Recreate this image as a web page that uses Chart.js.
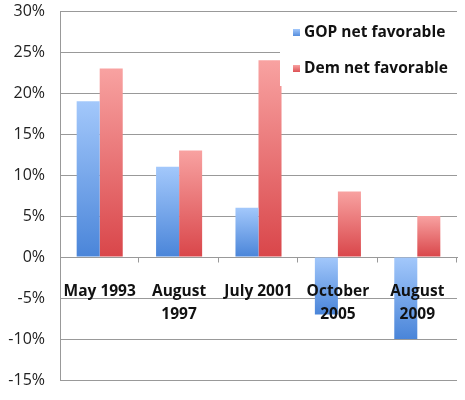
<!DOCTYPE html>
<html>
<head>
<meta charset="utf-8">
<script src="https://cdn.jsdelivr.net/npm/chart.js@4"></script>
<style>
  html, body { margin: 0; padding: 0; background: #fff; }
</style>
</head>
<body>
<canvas id="myChart" width="465" height="400"></canvas>
<script>
var categories = [['May 1993'], ['August', '1997'], ['July 2001'], ['October', '2005'], ['August', '2009']];
var gopValues = [19, 11, 6, -7, -10];
var demValues = [23, 13, 24, 8, 5];
var tickValues = [-15, -10, -5, 0, 5, 10, 15, 20, 25, 30];
var seriesNames = ['GOP net favorable', 'Dem net favorable'];

var blueTop = '#a3c8fb', blueBottom = '#4a85d9';
var redTop = '#f8a2a1', redBottom = '#d9464a';

// vertical gradient per bar, light at the top, dark at the bottom
function barGradient(top, bottom) {
  return function(context) {
    var chart = context.chart;
    if (!chart.chartArea || context.type !== 'data') return bottom;
    var y = chart.scales.y;
    var v = context.raw;
    var y1 = y.getPixelForValue(Math.max(v, 0));
    var y2 = y.getPixelForValue(Math.min(v, 0));
    var g = chart.ctx.createLinearGradient(0, y1, 0, y2);
    g.addColorStop(0, top);
    g.addColorStop(1, bottom);
    return g;
  };
}

// short tick marks under the zero line, between categories
var categoryTicks = {
  id: 'categoryTicks',
  afterDraw: function(chart) {
    var xs = chart.scales.x, ys = chart.scales.y;
    var ctx = chart.ctx;
    var y0 = Math.round(ys.getPixelForValue(0)) + 0.5;
    var n = chart.data.labels.length;
    ctx.save();
    ctx.strokeStyle = '#999';
    ctx.lineWidth = 1;
    ctx.beginPath();
    for (var i = 1; i <= n; i++) {
      var x = i < n ? (xs.getPixelForTick(i - 1) + xs.getPixelForTick(i)) / 2 : chart.chartArea.right;
      x = Math.round(x) - 0.5;
      ctx.moveTo(x, y0);
      ctx.lineTo(x, y0 + 5);
    }
    ctx.stroke();
    ctx.restore();
  }
};

var legendBox = {
  id: 'legendBox',
  afterDraw: function(chart) {
    var ctx = chart.ctx;
    var area = chart.chartArea;
    var left = area.right - 177;
    ctx.save();
    ctx.fillStyle = '#fff';
    ctx.fillRect(left, area.top + 7, 180, 68);
    ctx.font = 'bold 15.5px "Open Sans"';
    ctx.textBaseline = 'middle';
    chart.data.datasets.forEach(function(ds, i) {
      var cy = area.top + 22 + i * 36;
      var g = ctx.createLinearGradient(0, cy - 4, 0, cy + 4);
      g.addColorStop(0, i === 0 ? blueTop : redTop);
      g.addColorStop(1, i === 0 ? blueBottom : redBottom);
      ctx.fillStyle = g;
      ctx.fillRect(left + 13, cy - 4, 7, 7);
      ctx.fillStyle = '#111';
      ctx.fillText(ds.label, left + 24, cy);
    });
    ctx.restore();
  }
};

new Chart(document.getElementById('myChart'), {
  type: 'bar',
  data: {
    labels: categories,
    datasets: [{
      label: seriesNames[0],
      data: gopValues,
      backgroundColor: barGradient(blueTop, blueBottom)
    }, {
      label: seriesNames[1],
      data: demValues,
      backgroundColor: barGradient(redTop, redBottom)
    }]
  },
  options: {
    responsive: false,
    animation: false,
    devicePixelRatio: 1,
    categoryPercentage: 0.58,
    barPercentage: 1,
    layout: { padding: { top: 11, right: 8, bottom: 20, left: 0 } },
    plugins: {
      legend: { display: false },
      tooltip: { enabled: false }
    },
    scales: {
      x: {
        position: { y: 0 },
        grid: { display: false },
        border: { color: '#999' },
        ticks: {
          z: 1,
          font: { family: 'Open Sans', weight: 'bold', size: 15.5, lineHeight: 1.48 },
          color: '#111',
          padding: 15,
          maxRotation: 0,
          autoSkip: false
        }
      },
      y: {
        min: tickValues[0],
        max: tickValues[tickValues.length - 1],
        ticks: {
          stepSize: tickValues[1] - tickValues[0],
          callback: function(v) { return v + '%'; },
          font: { family: 'Open Sans', size: 16 },
          color: '#222',
          padding: 15
        },
        grid: { color: '#999', drawTicks: false },
        border: { color: '#999' },
        afterFit: function(scale) {
          scale.width = 60;
          scale.paddingTop = 0;
          scale.paddingBottom = 0;
        }
      }
    }
  },
  plugins: [categoryTicks, legendBox]
});
</script>
</body>
</html>
